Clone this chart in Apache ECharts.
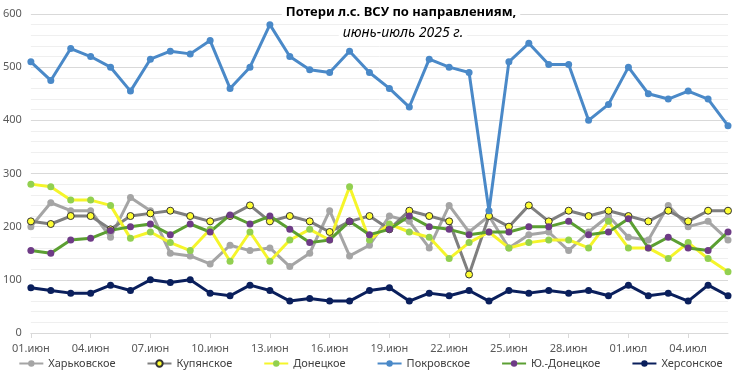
<!DOCTYPE html>
<html><head><meta charset="utf-8">
<script src="https://cdn.jsdelivr.net/npm/echarts@6/dist/echarts.min.js"></script>
<style>html,body{margin:0;padding:0;background:#fff}#c{width:741px;height:371px}</style>
</head><body><div id="c"></div>
<script>
const days = [];
for (let d = 1; d <= 30; d++) days.push((d < 10 ? '0' + d : '' + d) + '.июн');
for (let d = 1; d <= 6; d++) days.push('0' + d + '.июл');

const kharkiv = [200,245,230,230,180,255,230,150,145,130,165,155,160,125,150,230,145,165,220,210,160,240,190,220,160,185,190,155,190,220,180,175,240,200,210,175];
const kupyansk = [210,205,220,220,195,220,225,230,220,210,220,240,210,220,210,190,210,220,195,230,220,210,110,220,200,240,210,230,220,230,220,210,230,210,230,230];
const donetsk = [280,275,250,250,240,178,190,170,155,195,135,190,135,175,195,175,275,175,205,190,180,140,170,190,160,170,175,175,160,210,160,160,140,170,140,115];
const pokrovsk = [510,475,535,520,500,455,515,530,525,550,460,500,580,520,495,490,530,490,460,425,515,500,490,230,510,545,505,505,400,430,500,450,440,455,440,390];
const yuDonetsk = [155,150,175,178,193,200,205,185,205,190,222,205,220,195,170,175,210,185,195,220,200,195,185,190,190,200,200,210,185,190,215,160,180,160,155,190];
const kherson = [85,80,75,75,90,80,100,95,100,75,70,90,80,60,65,60,60,80,85,60,75,70,80,60,80,75,80,75,80,70,90,70,75,60,90,70];

const FONT = 'Noto Sans';
function mk(name, data, lineColor, dotColor, border) {
  return {
    name, type: 'line', data,
    symbol: 'circle', symbolSize: 7,
    lineStyle: { color: lineColor, width: 3 },
    itemStyle: { color: dotColor, borderColor: border || dotColor, borderWidth: border ? 1 : 0 },
    emphasis: { disabled: true },
    animation: false
  };
}

const chart = echarts.init(document.getElementById('c'), null, { renderer: 'canvas' });
chart.setOption({
  backgroundColor: '#fff',
  animation: false,
  title: [
    { text: 'Потери л.с. ВСУ по направлениям,', left: 397, top: 4, textAlign: 'center',
      backgroundColor: '#fff', padding: [2, 4],
      textStyle: { fontFamily: FONT, fontSize: 13, fontWeight: 'bold', color: '#000' } },
    { text: 'июнь-июль 2025 г.', left: 399, top: 25, textAlign: 'center',
      backgroundColor: '#fff', padding: [1, 4],
      textStyle: { fontFamily: FONT, fontSize: 14, fontWeight: 'normal', fontStyle: 'italic', color: '#000' } }
  ],
  legend: {
    top: 353, left: 'center', itemWidth: 24, itemHeight: 8, itemGap: 31,
    textStyle: { fontFamily: FONT, fontSize: 11, color: '#404040' },
    data: ['Харьковское','Купянское','Донецкое','Покровское','Ю.-Донецкое','Херсонское']
  },
  grid: { left: 30, right: 13, top: 14, bottom: 38, containLabel: false },
  xAxis: {
    type: 'category', data: days, boundaryGap: false,
    axisLine: { lineStyle: { color: '#d9d9d9' } },
    axisTick: { interval: 2, length: 5, lineStyle: { color: '#d9d9d9' } },
    axisLabel: { interval: 2, margin: 10, fontFamily: FONT, fontSize: 11, color: '#595959' },
    splitLine: { show: false }
  },
  yAxis: {
    type: 'value', min: 0, max: 600, interval: 100,
    axisLine: { show: false }, axisTick: { show: false },
    axisLabel: { margin: 9, fontFamily: FONT, fontSize: 11, color: '#595959' },
    splitLine: { lineStyle: { color: '#d9d9d9' } },
    minorTick: { show: false, splitNumber: 5 },
    minorSplitLine: { show: true, lineStyle: { color: '#efefef' } }
  },
  series: [
    mk('Харьковское', kharkiv, '#a5a5a5', '#a5a5a5'),
    mk('Купянское', kupyansk, '#7f7f7f', '#ffff33', '#333333'),
    mk('Донецкое', donetsk, '#f5f52a', '#92d050'),
    mk('Покровское', pokrovsk, '#4a89c8', '#4a89c8'),
    mk('Ю.-Донецкое', yuDonetsk, '#5b9f32', '#6e3b86'),
    mk('Херсонское', kherson, '#0a1f5c', '#0a1f5c')
  ]
});
</script></body></html>
